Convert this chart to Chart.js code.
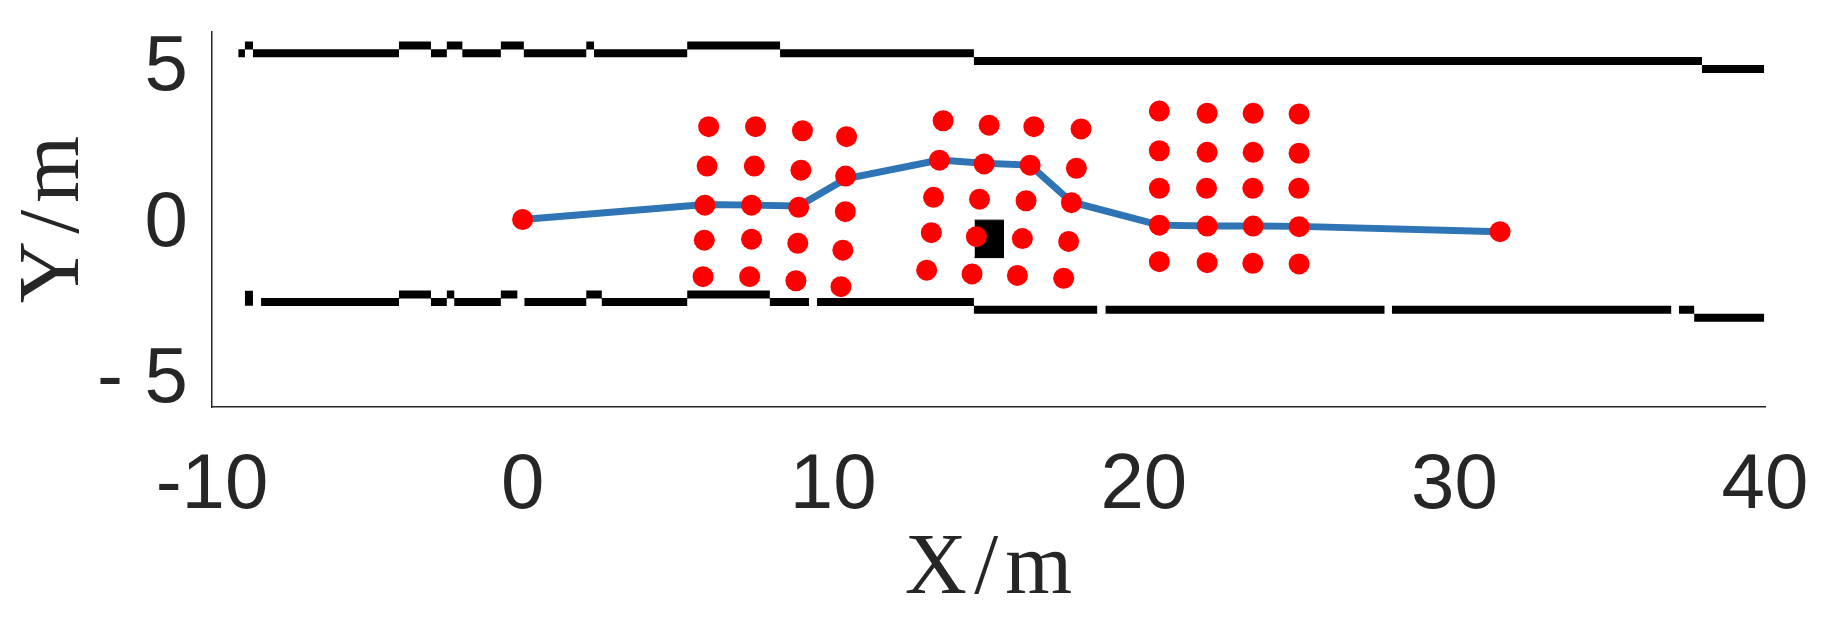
<!DOCTYPE html>
<html>
<head>
<meta charset="utf-8">
<title>X/m - Y/m</title>
<script src="https://cdn.jsdelivr.net/npm/chart.js@4.4.1/dist/chart.umd.min.js"></script>
<style>
    html, body { margin: 0; padding: 0; background: #ffffff; }
    #wrap { width: 1831px; height: 638px; }
</style>
</head>
<body>
<div id="wrap"><canvas id="pathChart" width="1831" height="638"></canvas></div>
<script>
// road edges, each piece is [x1, y1, x2, y2] in metres
const topEdge = [
    [-9.15, 5.32, -8.94, 5.32],
    [-8.94, 5.57, -8.68, 5.57],
    [-8.68, 5.32, -3.98, 5.32],
    [-3.98, 5.57, -2.95, 5.57],
    [-2.95, 5.32, -2.44, 5.32],
    [-2.44, 5.57, -1.94, 5.57],
    [-1.94, 5.32, -0.70, 5.32],
    [-0.70, 5.57, 0.04, 5.57],
    [0.04, 5.32, 2.05, 5.32],
    [2.05, 5.57, 2.30, 5.57],
    [2.30, 5.32, 5.30, 5.32],
    [5.30, 5.57, 8.29, 5.57],
    [8.29, 5.32, 14.53, 5.32],
    [14.53, 5.07, 37.97, 5.07],
    [37.97, 4.82, 39.97, 4.82]
];

const bottomEdge = [
    [-8.81, -2.28, -8.81, -2.76],
    [-8.42, -2.64, -3.98, -2.64],
    [-3.98, -2.40, -2.95, -2.40],
    [-2.95, -2.64, -2.44, -2.64],
    [-2.44, -2.40, -2.20, -2.40],
    [-2.20, -2.64, -0.70, -2.64],
    [-0.70, -2.40, -0.17, -2.40],
    [0.06, -2.64, 2.05, -2.64],
    [2.05, -2.40, 2.55, -2.40],
    [2.55, -2.64, 5.30, -2.64],
    [5.30, -2.40, 7.96, -2.40],
    [7.96, -2.64, 9.22, -2.64],
    [9.48, -2.64, 14.53, -2.64],
    [14.53, -2.89, 18.50, -2.89],
    [18.77, -2.89, 27.75, -2.89],
    [27.99, -2.89, 36.98, -2.89],
    [37.23, -2.89, 37.72, -2.89],
    [37.72, -3.14, 39.97, -3.14]
];

// red obstacle points, three blocks of 4 x 5
const obstaclesA = [
    [5.99, 2.97], [5.94, 1.71], [5.87, 0.46], [5.85, -0.66], [5.81, -1.83],
    [7.50, 2.97], [7.46, 1.71], [7.37, 0.46], [7.37, -0.63], [7.31, -1.83],
    [9.01, 2.84], [8.96, 1.58], [8.89, 0.39], [8.86, -0.76], [8.80, -1.96],
    [10.43, 2.65], [10.40, 1.39], [10.39, 0.25], [10.31, -0.98], [10.25, -2.15]
];
const obstaclesB = [
    [13.54, 3.16], [13.42, 1.90], [13.23, 0.71], [13.16, -0.42], [13.01, -1.62],
    [15.02, 3.02], [14.86, 1.78], [14.71, 0.65], [14.61, -0.55], [14.47, -1.74],
    [16.46, 2.97], [16.34, 1.74], [16.21, 0.60], [16.09, -0.61], [15.93, -1.79],
    [17.98, 2.90], [17.83, 1.64], [17.67, 0.54], [17.58, -0.70], [17.42, -1.88]
];
const obstaclesC = [
    [20.50, 3.47], [20.50, 2.20], [20.50, 1.00], [20.50, -0.18], [20.50, -1.35],
    [22.04, 3.40], [22.04, 2.15], [22.02, 1.00], [22.04, -0.21], [22.04, -1.38],
    [23.52, 3.40], [23.52, 2.15], [23.51, 1.00], [23.52, -0.21], [23.51, -1.40],
    [25.00, 3.38], [25.00, 2.12], [24.99, 1.00], [25.00, -0.23], [25.00, -1.42]
];

// start and goal
const endPointsX = [0.0, 31.47];
const endPointsY = [0.0, -0.39];

// planned path
const pathX = [0.0, 5.87, 7.37, 8.89, 10.40, 13.42, 14.86, 16.34, 17.67, 20.50, 22.04, 23.52, 25.00, 31.47];
const pathY = [0.0, 0.48, 0.46, 0.43, 1.30, 1.90, 1.80, 1.74, 0.56, -0.18, -0.21, -0.21, -0.22, -0.39];

// black box (vehicle)
const boxX = [14.55, 15.50];
const boxY = [-1.22, -0.02];

const xTicks = [-10, 0, 10, 20, 30, 40];
const xTickLabels = ['-10', '0', '10', '20', '30', '40'];
const yTicks = [-5, 0, 5];
const yTickLabels = ['- 5', '0', '5'];

function edgePoints(pieces) {
    const pts = [];
    pieces.forEach(p => {
        pts.push({ x: p[0], y: p[1] }, { x: p[2], y: p[3] }, { x: p[2], y: null });
    });
    return pts;
}

function pairPoints(list) {
    return list.map(p => ({ x: p[0], y: p[1] }));
}

const tickFont = { family: "'Liberation Sans Narrow', 'Arial Narrow', 'Liberation Sans', Arial, sans-serif", size: 78 };
const titleFont = { family: "'Liberation Serif', 'DejaVu Serif', serif", size: 86 };
const textColor = '#262626';

const allObstacles = pairPoints(obstaclesA.concat(obstaclesB, obstaclesC))
    .concat(endPointsX.map((x, i) => ({ x: x, y: endPointsY[i] })));

const ctx = document.getElementById('pathChart').getContext('2d');
const pathChart = new Chart(ctx, {
    type: 'line',
    data: {
        datasets: [{
            label: 'obstacles',
            data: allObstacles,
            showLine: false,
            pointRadius: 10.5,
            pointBackgroundColor: '#ff0000',
            pointBorderWidth: 0,
            order: 0
        }, {
            label: 'path',
            data: pathX.map((x, i) => ({ x: x, y: pathY[i] })),
            borderColor: '#2f75b6',
            borderWidth: 7,
            pointRadius: 0,
            fill: false,
            order: 1
        }, {
            label: 'box top',
            data: boxX.map(x => ({ x: x, y: boxY[1] })),
            borderColor: '#000000',
            borderWidth: 1,
            backgroundColor: '#000000',
            pointRadius: 0,
            fill: '+1',
            order: 2
        }, {
            label: 'box bottom',
            data: boxX.map(x => ({ x: x, y: boxY[0] })),
            borderColor: '#000000',
            borderWidth: 1,
            pointRadius: 0,
            fill: false,
            order: 2
        }, {
            label: 'top edge',
            data: edgePoints(topEdge),
            borderColor: '#000000',
            borderWidth: 8,
            borderCapStyle: 'butt',
            pointRadius: 0,
            spanGaps: false,
            fill: false,
            order: 3
        }, {
            label: 'bottom edge',
            data: edgePoints(bottomEdge),
            borderColor: '#000000',
            borderWidth: 8,
            borderCapStyle: 'butt',
            pointRadius: 0,
            spanGaps: false,
            fill: false,
            order: 3
        }]
    },
    options: {
        responsive: false,
        maintainAspectRatio: false,
        animation: false,
        events: [],
        layout: { padding: { top: 32, right: 66, left: 0, bottom: 0 } },
        plugins: {
            legend: { display: false },
            tooltip: { enabled: false }
        },
        scales: {
            x: {
                type: 'linear',
                min: -10,
                max: 40,
                afterBuildTicks: axis => { axis.ticks = xTicks.map(v => ({ value: v })); },
                afterFit: axis => {
                    axis.height = 231;
                    axis.paddingLeft = 0;
                    axis.paddingRight = 0;
                },
                grid: { display: false, drawTicks: false },
                border: { display: true, color: textColor, width: 1.5 },
                ticks: {
                    padding: 33,
                    color: textColor,
                    font: tickFont,
                    maxRotation: 0,
                    autoSkip: false,
                    callback: (v, i) => xTickLabels[i]
                },
                title: {
                    display: true,
                    text: 'X\u200A/\u200Am',
                    color: textColor,
                    font: titleFont,
                    padding: { top: 0, bottom: 16 }
                }
            },
            y: {
                type: 'linear',
                min: -6,
                max: 6,
                afterBuildTicks: axis => { axis.ticks = yTicks.map(v => ({ value: v })); },
                afterFit: axis => {
                    axis.width = 212;
                    axis.paddingTop = 0;
                    axis.paddingBottom = 0;
                },
                grid: { display: false, drawTicks: false },
                border: { display: true, color: textColor, width: 1.5 },
                ticks: {
                    padding: 24,
                    labelOffset: 5,
                    color: textColor,
                    font: tickFont,
                    callback: (v, i) => yTickLabels[i]
                },
                title: {
                    display: true,
                    text: 'Y\u200A/\u200Am',
                    color: textColor,
                    font: titleFont,
                    padding: { top: 4, bottom: 0 }
                }
            }
        }
    }
});
</script>
</body>
</html>
